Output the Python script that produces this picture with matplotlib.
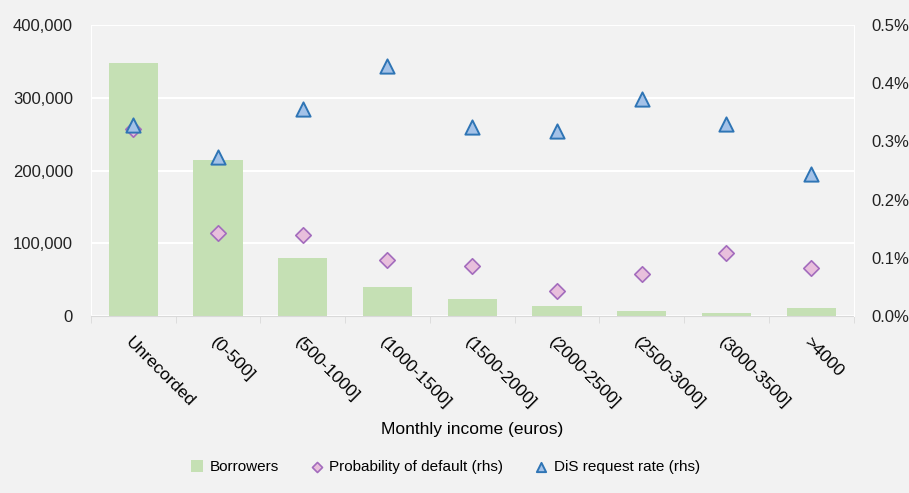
import numpy as np
import matplotlib.pyplot as plt
from matplotlib.ticker import FuncFormatter
from matplotlib.transforms import ScaledTranslation

categories = ['Unrecorded', '(0-500]', '(500-1000]', '(1000-1500]', '(1500-2000]',
              '(2000-2500]', '(2500-3000]', '(3000-3500]', '>4000']
borrowers = [348000, 214000, 80000, 40000, 23000, 14000, 7000, 4000, 11000]
prob_default = [0.321, 0.143, 0.139, 0.096, 0.086, 0.043, 0.072, 0.108, 0.082]   # %
dis_rate = [0.328, 0.273, 0.356, 0.430, 0.325, 0.318, 0.373, 0.330, 0.244]       # %

plt.rcParams['font.family'] = ['Liberation Sans', 'DejaVu Sans']
bg = '#f2f2f2'

fig = plt.figure(figsize=(9.09, 4.93), dpi=100, facecolor=bg)
ax = fig.add_axes([0.100, 0.359, 0.839, 0.590], facecolor=bg)
ax2 = ax.twinx()

x = np.arange(len(categories))
bars = ax.bar(x, borrowers, width=0.58, color='#c5e0b4', zorder=2, label='Borrowers')
ax.set_ylim(0, 400000)
ax.set_yticks(np.arange(0, 400001, 100000))
ax.yaxis.set_major_formatter(FuncFormatter(lambda v, p: f'{int(v):,}'))
ax.grid(axis='y', color='white', linewidth=1.5, zorder=0)
ax.set_axisbelow(True)
ax.set_xlim(-0.5, len(categories) - 0.5)

d = ax2.scatter(x, prob_default, marker='D', s=62, facecolor='#e8bfdc', edgecolor='#a36cbd',
                linewidth=1.2, zorder=4, label='Probability of default (rhs)')
t = ax2.scatter(x, dis_rate, marker='^', s=105, facecolor='#a4c2e8', edgecolor='#2f75b5',
                linewidth=1.4, zorder=5, label='DiS request rate (rhs)')
ax2.set_ylim(0, 0.5)
ax2.set_yticks(np.arange(0, 0.51, 0.1))
ax2.yaxis.set_major_formatter(FuncFormatter(lambda v, p: f'{v:.1f}%'))

for a in (ax, ax2):
    for s in a.spines.values():
        s.set_visible(False)
    a.tick_params(axis='y', length=0, labelsize=12, colors='#222222', pad=13)

ax.spines['left'].set_visible(True)
ax.spines['left'].set_color('white')
ax2.spines['right'].set_visible(True)
ax2.spines['right'].set_color('white')
ax.spines['bottom'].set_visible(True)
ax.spines['bottom'].set_color('#d9d9d9')
ax.set_xticks(x)
ax.set_xticklabels(categories, rotation=-45, ha='left', va='top', rotation_mode='anchor', fontsize=12.5)
shift = ScaledTranslation(-12 / 100, 0, fig.dpi_scale_trans)
for lab in ax.get_xticklabels():
    lab.set_transform(lab.get_transform() + shift)
ax.set_xticks(np.arange(-0.5, len(categories)), minor=True)
ax.tick_params(axis='x', which='major', length=0, pad=13)
ax.tick_params(axis='x', which='minor', length=5, color='#d9d9d9')
ax.set_xlabel('Monthly income (euros)', fontsize=12.5, labelpad=8)

fig.legend(handles=[bars, d, t], loc='lower center', bbox_to_anchor=(0.49, 0.01), ncol=3,
           frameon=False, fontsize=11, handlelength=0.8, handleheight=0.8, handletextpad=0.4,
           columnspacing=2.1, markerscale=0.65)

fig.savefig('out.png', dpi=100, facecolor=bg)
